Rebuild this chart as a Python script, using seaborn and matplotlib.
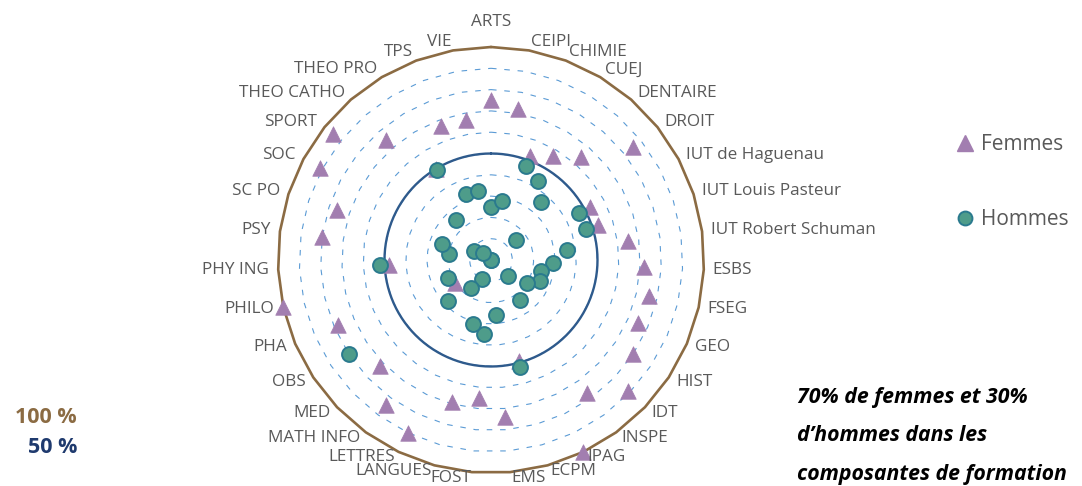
import numpy as np
import pandas as pd
import matplotlib
matplotlib.use("Agg")
import matplotlib.pyplot as plt
from matplotlib.lines import Line2D
import seaborn as sns

# Composantes de formation, dans l'ordre horaire à partir du haut
composantes = [
    "ARTS", "CEIPI", "CHIMIE", "CUEJ", "DENTAIRE", "DROIT",
    "IUT de Haguenau", "IUT Louis Pasteur", "IUT Robert Schuman",
    "ESBS", "FSEG", "GEO", "HIST", "IDT", "INSPE", "IPAG", "ECPM",
    "EMS", "FOST", "LANGUES", "LETTRES", "MATH INFO", "MED", "OBS",
    "PHA", "PHILO", "PHY ING", "PSY", "SC PO", "SOC", "SPORT",
    "THEO CATHO", "THEO PRO", "TPS", "VIE",
]

# Part de femmes et d'hommes par composante
femmes = [
    0.75, 0.72, 0.52, 0.57, 0.64, 0.85,
    0.53, 0.53, 0.65,
    0.72, 0.76, 0.75, 0.80, 0.89, 0.77, 1.00, 0.49,
    0.74, 0.65, 0.69, 0.90, 0.84, 0.72, 0.20,
    0.78, 1.00, 0.48, 0.80, 0.76, 0.91, 0.95,
    0.75, 0.50, 0.67, 0.67,
]
hommes = [
    0.25, 0.28, 0.47, 0.43, 0.36, 0.15,
    0.47, 0.47, 0.36,
    0.29, 0.24, 0.25, 0.20, 0.11, 0.23, 0.00, 0.52,
    0.26, 0.35, 0.31, 0.10, 0.16, 0.28, 0.80,
    0.22, 0.00, 0.52, 0.20, 0.24, 0.09, 0.05,
    0.25, 0.49, 0.33, 0.33,
]

series = ["Femmes", "Hommes"]
reperes = ["100 %", "50 %"]
message = ["70% de femmes et 30%", "d\u2019hommes dans les", "composantes de formation"]

sns.set_theme(style="white")
plt.rcParams["font.family"] = ["Open Sans", "DejaVu Sans"]

C_GRID = "#5B9BD5"
C_OUTER = "#8B6B43"
C_HALF = "#2E5A8C"
C_F = "#A27EB0"
C_H = "#4E9C8A"
C_H_EDGE = "#2A7A8E"
C_LABEL = "#595959"

n = len(composantes)
angles = np.arange(n) * 2 * np.pi / n

df = pd.DataFrame({
    "composante": composantes * 2,
    "angle": np.tile(angles, 2),
    "part": femmes + hommes,
    "genre": [series[0]] * n + [series[1]] * n,
})

W, H = 1082, 486
fig = plt.figure(figsize=(W / 100, H / 100), dpi=100)
cx, cy, R = 491, 260, 213
ax = fig.add_axes([(cx - R) / W, (H - cy - R) / H, 2 * R / W, 2 * R / H],
                  projection="polar")
ax.set_theta_zero_location("N")
ax.set_theta_direction(-1)
ax.grid(False)
ax.spines["polar"].set_visible(False)
ax.set_facecolor("none")

# Grille en polygones pointillés tous les 10 %
closed = np.append(angles, angles[0])
for r in np.arange(1, 10) / 10:
    ax.plot(closed, np.full(closed.size, r), color=C_GRID, lw=0.8,
            ls=(0, (5, 7)), zorder=1)
# Contour 100 % et cercle 50 %
ax.plot(closed, np.ones(closed.size), color=C_OUTER, lw=1.9, zorder=2,
        clip_on=False)
circ = np.linspace(0, 2 * np.pi, 361)
ax.plot(circ, np.full(circ.size, 0.5), color=C_HALF, lw=1.7, zorder=2)

sns.scatterplot(data=df[df.genre == "Femmes"], x="angle", y="part",
                marker="^", s=125, color=C_F, edgecolor=C_F, linewidth=0.5,
                ax=ax, zorder=3, legend=False, clip_on=False)
sns.scatterplot(data=df[df.genre == "Hommes"], x="angle", y="part",
                marker="o", s=115, color=C_H, edgecolor=C_H_EDGE, linewidth=1.4,
                ax=ax, zorder=4, legend=False, clip_on=False)

ax.set_xlim(0, 2 * np.pi)
ax.set_ylim(0, 1)
ax.set_xticks([])
ax.set_yticks([])
ax.set_xlabel("")
ax.set_ylabel("")

# Étiquettes des composantes
for name, a in zip(composantes, angles):
    s, c = np.sin(a), np.cos(a)
    if abs(s) < 0.01:
        ha, off = "center", (0, 25 if c > 0 else -12)
    else:
        ha = "left" if s > 0 else "right"
        off = (9 * s, max(9 * c, -5.5))
    ax.annotate(name, xy=(a, 1.0), xytext=off, textcoords="offset pixels",
                ha=ha, va="center", fontsize=12.3, color=C_LABEL,
                annotation_clip=False)

handles = [
    Line2D([], [], ls="none", marker="^", markersize=11, color=C_F,
           markeredgecolor=C_F),
    Line2D([], [], ls="none", marker="o", markersize=10, color=C_H,
           markeredgecolor=C_H_EDGE, markeredgewidth=1.4),
]
fig.legend(handles, series, loc="upper left",
           bbox_to_anchor=(955 / W, 1 - 134 / H), frameon=False,
           fontsize=15, labelcolor=C_LABEL, handlelength=1.0,
           handletextpad=0.25, labelspacing=2.6, borderpad=0,
           borderaxespad=0)

fig.text(77 / W, 1 - 417 / H, reperes[0], ha="right", va="center",
         fontsize=15.5, fontweight="bold", color=C_OUTER)
fig.text(77 / W, 1 - 447 / H, reperes[1], ha="right", va="center",
         fontsize=15.5, fontweight="bold", color="#1F3A6E")

for i, line in enumerate(message):
    fig.text(797 / W, 1 - (397 + 38.5 * i) / H, line, ha="left", va="center",
             fontsize=15.3, fontweight="bold", fontstyle="italic", color="black")

fig.savefig("out.png", dpi=100, facecolor="white")
